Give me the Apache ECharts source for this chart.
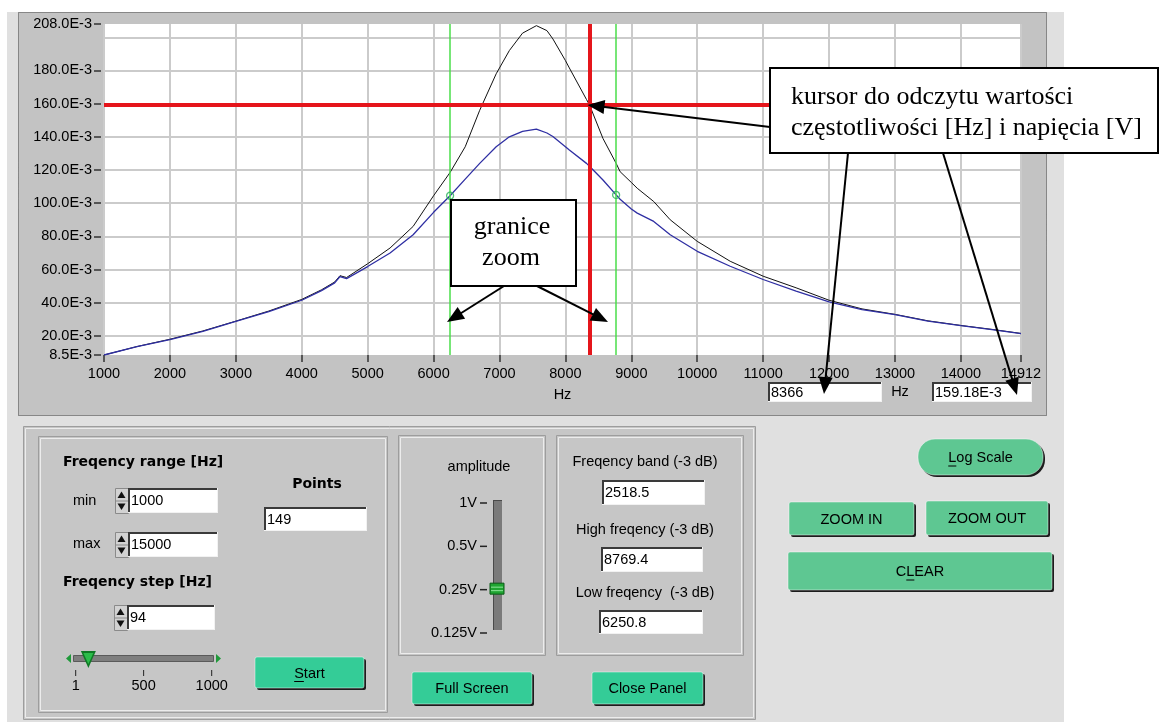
<!DOCTYPE html>
<html>
<head>
<meta charset="utf-8">
<script src="https://cdn.jsdelivr.net/npm/echarts@6/dist/echarts.min.js"></script>
<style>
  html, body { margin: 0; padding: 0; background: #fff; }
  #chart { width: 1166px; height: 722px; }
</style>
</head>
<body>
<div id="chart"></div>
<script>
// ---- measured frequency response (values in 1E-3 V) ----
const freqHz = [1000, 1500, 2000, 2500, 3000, 3500, 4000, 4300, 4500, 4580, 4680, 5000, 5340, 5690,
  6000, 6250, 6480, 6700, 6950, 7150, 7350, 7560, 7720, 7810, 8000, 8060, 8320, 8366, 8570, 8770,
  8830, 9000, 9090, 9340, 9590, 10000, 10500, 11000, 11500, 12000, 12500, 13000, 13500, 14000, 14500, 14912];
// reference trace (black)
const voltageRef = [8.5, 13.6, 18.0, 23.0, 28.9, 35.0, 42.0, 47.8, 52.5, 56.3, 55.2, 63.5, 73.0, 86.0,
  104.5, 118.5, 134.0, 156.0, 178.0, 192.0, 202.5, 207.0, 204.0, 199.0, 186.0, 181.5, 162.5, 159.2, 139.0, 124.0,
  119.0, 112.5, 109.0, 101.0, 90.0, 77.0, 65.0, 56.0, 49.0, 41.5, 36.3, 33.0, 29.1, 26.3, 23.8, 21.5];
// measured trace (blue)
const voltageMeas = [8.5, 13.5, 17.8, 22.8, 28.7, 34.7, 41.5, 47.3, 52.0, 55.8, 54.5, 61.8, 70.0, 81.0,
  94.5, 104.5, 114.5, 124.0, 134.0, 140.0, 143.3, 144.7, 142.3, 140.2, 134.0, 132.0, 124.0, 122.3, 114.0, 105.0,
  102.4, 96.5, 94.0, 89.0, 81.0, 71.0, 62.0, 54.0, 47.0, 40.5, 35.8, 32.8, 28.9, 26.2, 23.7, 21.4];

// axis ticks
const xTickHz = [1000, 2000, 3000, 4000, 5000, 6000, 7000, 8000, 9000, 10000, 11000, 12000, 13000, 14000, 14912];
const yTickMv = [8.5, 20, 40, 60, 80, 100, 120, 140, 160, 180, 208];
const yGridMv = [20, 40, 60, 80, 100, 120, 140, 160, 180, 200];

// -3 dB band edges and cursor
const bandLowHz = 6250.8;
const bandHighHz = 8769.4;
const bandwidthHz = 2518.5;
const bandMarkerMv = [104.5, 105.0];
const cursorHz = 8366;
const cursorMv = 159.18;

// front panel settings
const rangeMinHz = 1000;
const rangeMaxHz = 15000;
const stepHz = 94;
const pointCount = 149;
const stepScale = [1, 500, 1000];
const ampLevelsV = [1, 0.5, 0.25, 0.125];
const ampSelectedV = 0.25;

const SANS = '"Liberation Sans", Arial, sans-serif';
const SERIF = '"Liberation Serif", "Times New Roman", serif';
const BOLD = '"DejaVu Sans", sans-serif';

const chart = echarts.init(document.getElementById('chart'), null, { renderer: 'canvas' });

const pairs = (xs, ys) => xs.map((x, i) => [x, ys[i]]);
const axisFont = { color: '#000', fontSize: 14.5, fontFamily: SANS };

chart.setOption({
  animation: false,
  backgroundColor: '#fff',
  grid: { left: 104, top: 24, width: 917, height: 331, show: true, backgroundColor: '#fff', borderWidth: 0 },
  xAxis: {
    type: 'value', min: 1000, max: 14912,
    name: 'Hz', nameLocation: 'middle', nameGap: 32,
    nameTextStyle: axisFont,
    axisLine: { show: false },
    axisTick: { show: true, length: 7, customValues: xTickHz, lineStyle: { color: '#333', width: 1.5 } },
    axisLabel: Object.assign({ customValues: xTickHz, margin: 11, formatter: v => String(v) }, axisFont),
    splitLine: { show: true, lineStyle: { color: '#cbcbcb', width: 2 } }
  },
  yAxis: [{
    type: 'value', min: 8.5, max: 208, offset: 3,
    axisLine: { show: false },
    axisTick: { show: true, length: 7, customValues: yTickMv, lineStyle: { color: '#333', width: 1.5 } },
    axisLabel: Object.assign({ customValues: yTickMv, margin: 9, formatter: v => v.toFixed(1) + 'E-3' }, axisFont),
    splitLine: { show: false }
  }, {
    type: 'value', min: 8.5, max: 208, position: 'left',
    axisLine: { show: false },
    axisTick: { show: false, customValues: yGridMv },
    axisLabel: { show: false },
    splitLine: { show: true, lineStyle: { color: '#cbcbcb', width: 2 } }
  }],
  series: [
    {
      type: 'line', name: 'band', data: [], silent: true, z: 2,
      markLine: {
        silent: true, symbol: ['none', 'none'], label: { show: false }, animation: false,
        lineStyle: { color: '#4ade4a', width: 1.5, type: 'solid' },
        data: [{ xAxis: bandLowHz }, { xAxis: bandHighHz }]
      }
    },
    {
      type: 'line', name: 'ref', data: pairs(freqHz, voltageRef), showSymbol: false, z: 3,
      lineStyle: { color: '#111', width: 1 }, itemStyle: { color: '#111' }
    },
    {
      type: 'line', name: 'meas', data: pairs(freqHz, voltageMeas), showSymbol: false, z: 3,
      lineStyle: { color: '#2f2fa3', width: 1.3 }, itemStyle: { color: '#2f2fa3' }
    },
    {
      type: 'line', name: 'cursor', data: [], silent: true, z: 6,
      markLine: {
        silent: true, symbol: ['none', 'none'], label: { show: false }, animation: false, z: 6,
        lineStyle: { color: '#e5151b', width: 4, type: 'solid' },
        data: [{ xAxis: cursorHz }, { yAxis: cursorMv }]
      }
    },
    {
      type: 'scatter', name: 'bandPoints', data: pairs([bandLowHz, bandHighHz], bandMarkerMv), z: 7,
      symbol: 'circle', symbolSize: 7, silent: true,
      itemStyle: { color: 'rgba(255,255,255,0)', borderColor: '#27b057', borderWidth: 1.3 }
    }
  ]
});

// ---- front panel drawing helpers ----
const G = [];
const measureCtx = document.createElement('canvas').getContext('2d');
function textWidth(s, size, family, weight) {
  measureCtx.font = (weight || 'normal') + ' ' + size + 'px ' + family;
  return measureCtx.measureText(s).width;
}
function box(x, y, w, h, style, z, r) {
  G.push({ type: 'rect', z: z || 0, silent: true, shape: { x, y, width: w, height: h, r: r || 0 }, style });
}
function seg(x1, y1, x2, y2, stroke, lw, z, dash) {
  G.push({ type: 'line', z: z || 0, silent: true, shape: { x1, y1, x2, y2 },
    style: { stroke, lineWidth: lw || 1, lineDash: dash || null } });
}
function tri(points, fill, z) {
  G.push({ type: 'polygon', z: z || 0, silent: true, shape: { points }, style: { fill } });
}
function txt(x, y, s, o) {
  o = o || {};
  G.push({ type: 'text', x, y, z: o.z || 20, silent: true, style: {
    text: s, fontSize: o.size || 14.5, fontFamily: o.family || SANS, fontWeight: o.weight || 'normal',
    fill: o.fill || '#000', align: o.align || 'left', verticalAlign: 'middle' } });
}
function frame(x, y, w, h, fill) {
  box(x + 0.5, y + 0.5, w, h, { fill: fill || '#c6c6c6', stroke: '#9d9d9d', lineWidth: 1 }, 1);
  box(x + 2.5, y + 2.5, w - 4, h - 4, { fill: null, stroke: '#ececec', lineWidth: 1 }, 2);
}
function field(x, y, w, h, val) {
  box(x, y, w, h, { fill: '#fff' }, 10);
  seg(x, y + 1, x + w, y + 1, '#3a3a3a', 2, 11);
  seg(x + 1, y, x + 1, y + h, '#3a3a3a', 2, 11);
  seg(x, y + h - 0.5, x + w, y + h - 0.5, '#f2f2f2', 1, 11);
  seg(x + w - 0.5, y, x + w - 0.5, y + h, '#f2f2f2', 1, 11);
  txt(x + 3, y + h / 2 + 0.5, val, { z: 12 });
}
function spinner(x, y) {
  box(x + 0.5, y + 0.5, 13, 25, { fill: '#d2d2d2', stroke: '#8a8a8a', lineWidth: 1 }, 10);
  tri([[x + 2.5, y + 10], [x + 10.5, y + 10], [x + 6.5, y + 3.5]], '#111', 11);
  tri([[x + 2.5, y + 15.5], [x + 10.5, y + 15.5], [x + 6.5, y + 22]], '#111', 11);
  seg(x, y + 13, x + 13, y + 13, '#8a8a8a', 1, 11);
}
function button(x, y, w, h, label, ul, fill, r) {
  box(x + 2, y + 2, w, h, { fill: '#1c1c1c' }, 10, r);
  box(x, y, w, h, { fill, stroke: 'rgba(255,255,255,0.45)', lineWidth: 1 }, 11, r);
  const cx = x + w / 2, cy = y + h / 2 + 1;
  txt(cx, cy, label, { align: 'center', z: 12 });
  if (ul != null) {
    const full = textWidth(label, 14.5, SANS);
    const left = cx - full / 2 + textWidth(label.slice(0, ul), 14.5, SANS);
    const cw = textWidth(label[ul], 14.5, SANS);
    seg(left, cy + 8, left + cw, cy + 8, '#000', 1, 12);
  }
}
function arrow(x1, y1, x2, y2) {
  const dx = x2 - x1, dy = y2 - y1, L = Math.hypot(dx, dy), ux = dx / L, uy = dy / L, hl = 17, hw = 7;
  const bx = x2 - ux * hl, by = y2 - uy * hl;
  seg(x1, y1, bx + ux * 2, by + uy * 2, '#000', 2, 40);
  tri([[x2, y2], [bx - uy * hw, by + ux * hw], [bx + uy * hw, by - ux * hw]], '#000', 40);
}

// ---- backgrounds ----
box(7, 12, 1057, 710, { fill: '#e0e0e0' }, -10);
box(18.5, 12.5, 1028, 403, { fill: '#c3c3c3', stroke: '#3c3c3c', lineWidth: 1, lineDash: [1, 1] }, -9);

// cursor readouts under the graph
field(768, 382, 114, 20, String(cursorHz));
txt(900, 392, 'Hz', { align: 'center' });
field(932, 382, 100, 20, cursorMv.toFixed(2) + 'E-3');

// ---- control area ----
frame(23, 426, 732, 293, '#c6c6c6');

// sweep settings panel
frame(38, 436, 349, 276);
txt(63, 462, 'Freqency range [Hz]', { family: BOLD, weight: 'bold', size: 14 });
txt(73, 501, 'min');
txt(73, 544, 'max');
spinner(115, 488); field(128, 488, 90, 25, String(rangeMinHz));
spinner(115, 532); field(128, 532, 90, 25, String(rangeMaxHz));
txt(317, 484, 'Points', { family: BOLD, weight: 'bold', size: 14, align: 'center' });
field(264, 507, 103, 24, String(pointCount));
txt(63, 582, 'Freqency step [Hz]', { family: BOLD, weight: 'bold', size: 14 });
spinner(114, 605); field(127, 605, 88, 25, String(stepHz));

// step slider
const sx0 = 75.7, sx1 = 211.7;
const stepX = v => sx0 + (v - stepScale[0]) / (stepScale[stepScale.length - 1] - stepScale[0]) * (sx1 - sx0);
box(73.5, 655.5, 140, 6, { fill: '#7e7e7e', stroke: '#5a5a5a', lineWidth: 1 }, 10);
tri([[66, 658.5], [71, 654], [71, 663]], '#1f9a3a', 11);
tri([[221, 658.5], [216, 654], [216, 663]], '#1f9a3a', 11);
const px = stepX(stepHz);
tri([[px - 7.5, 651], [px + 7.5, 651], [px, 668]], '#0f7a25', 12);
tri([[px - 5, 653], [px + 5, 653], [px, 664]], '#2bbd4a', 13);
stepScale.forEach(v => {
  seg(stepX(v), 670, stepX(v), 676, '#222', 1, 11);
  txt(stepX(v), 686, String(v), { align: 'center' });
});
button(255, 657, 109, 31, 'Start', 0, '#34cc97', 2);

// amplitude panel
frame(398, 435, 147, 220);
txt(479, 467, 'amplitude', { align: 'center' });
const ay0 = 500, ay1 = 630;
const ampY = v => ay0 + Math.log2(ampLevelsV[0] / v) / Math.log2(ampLevelsV[0] / ampLevelsV[ampLevelsV.length - 1]) * (ay1 - ay0);
box(493, 500, 9, 130, { fill: '#7a7a7a' }, 10);
seg(493.5, 500, 493.5, 630, '#4a4a4a', 1, 11);
seg(493, 500.5, 502, 500.5, '#4a4a4a', 1, 11);
ampLevelsV.forEach(v => {
  const y = ampY(v) + 3;
  txt(477, y, v + 'V', { align: 'right' });
  seg(480, y, 487, y, '#222', 1.5, 11);
});
const ty = ampY(ampSelectedV) + 2;
box(490, ty - 5.5, 14, 11, { fill: '#1fa531', stroke: '#0b5a17', lineWidth: 1 }, 12);
seg(491, ty - 1.5, 503, ty - 1.5, '#8fe79b', 1, 13);
seg(491, ty + 2, 503, ty + 2, '#8fe79b', 1, 13);

// -3 dB panel
frame(556, 435, 187, 220);
txt(645, 462, 'Freqency band (-3 dB)', { align: 'center' });
field(602, 480, 103, 25, bandwidthHz.toFixed(1));
txt(645, 530, 'High freqency (-3 dB)', { align: 'center' });
field(601, 547, 102, 25, bandHighHz.toFixed(1));
txt(645, 593, 'Low freqency  (-3 dB)', { align: 'center' });
field(599, 610, 104, 24, bandLowHz.toFixed(1));

button(412, 672, 120, 32, 'Full Screen', null, '#34cc97', 2);
button(592, 672, 111, 32, 'Close Panel', null, '#34cc97', 2);

// graph tool buttons
button(918, 439, 125, 36, 'Log Scale', 0, '#5ec792', 17);
button(789, 502, 125, 33, 'ZOOM IN', null, '#5ec792', 2);
button(926, 501, 122, 34, 'ZOOM OUT', null, '#5ec792', 2);
button(788, 552, 264, 38, 'CLEAR', 1, '#5ec792', 2);

// ---- annotations ----
const cursorPx = chart.convertToPixel({ xAxisIndex: 0, yAxisIndex: 0 }, [cursorHz, cursorMv]);
box(770, 68, 388, 85, { fill: '#fff', stroke: '#000', lineWidth: 2 }, 35);
txt(791, 97, 'kursor do odczytu wartości', { family: SERIF, size: 26, z: 36 });
txt(791, 128, 'częstotliwości [Hz] i napięcia [V]', { family: SERIF, size: 26, z: 36 });
arrow(770, 127, cursorPx[0] - 2, cursorPx[1]);
arrow(848, 153, 824, 394);
arrow(943, 153, 1017, 395);

box(451, 200, 125, 86, { fill: '#fff', stroke: '#000', lineWidth: 2 }, 35);
txt(512, 227, 'granice', { family: SERIF, size: 26, z: 36, align: 'center' });
txt(511, 258, 'zoom', { family: SERIF, size: 26, z: 36, align: 'center' });
arrow(504, 286, 447, 322);
arrow(537, 286, 608, 322);

chart.setOption({ graphic: { elements: G } });
</script>
</body>
</html>
